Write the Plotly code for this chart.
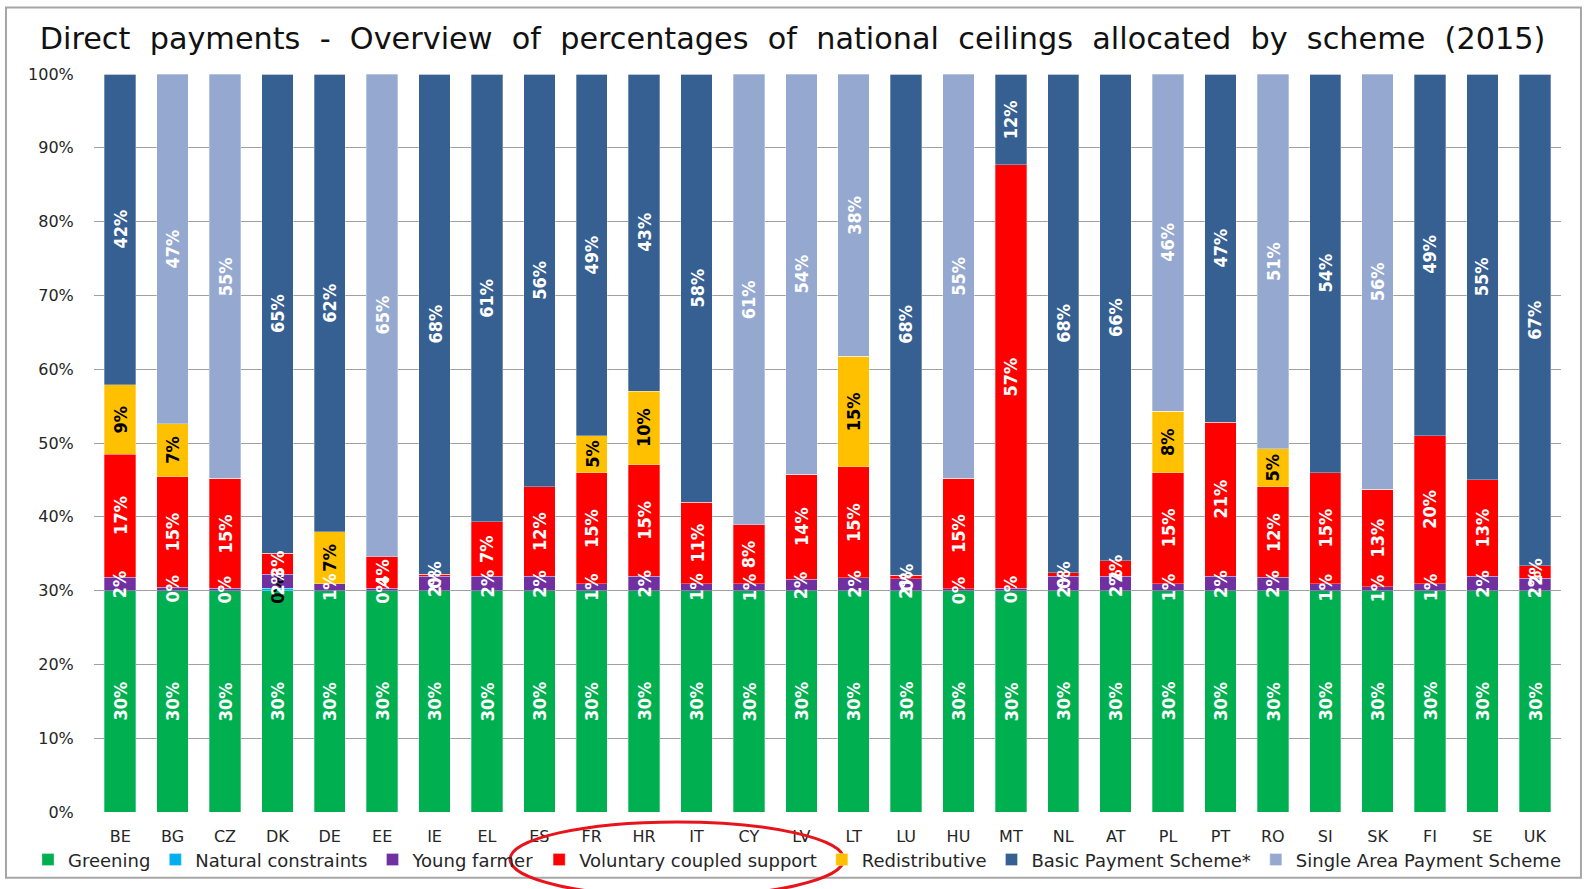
"""Direct payments - stacked share of national ceilings by scheme (2015)."""

import plotly.graph_objects as go

COUNTRIES = ["BE", "BG", "CZ", "DK", "DE", "EE", "IE", "EL", "ES", "FR", "HR", "IT", "CY", "LV",
             "LT", "LU", "HU", "MT", "NL", "AT", "PL", "PT", "RO", "SI", "SK", "FI", "SE", "UK"]

greening = [30, 30, 30, 30, 30, 30, 30, 30, 30, 30, 30, 30, 30, 30,
            30, 30, 30, 30, 30, 30, 30, 30, 30, 30, 30, 30, 30, 30]
natural_constraints = [0, 0, 0, 0.3, 0, 0, 0, 0, 0, 0, 0, 0, 0, 0,
                       0, 0, 0, 0, 0, 0, 0, 0, 0, 0, 0, 0, 0, 0]
young_farmer = [1.8, 0.45, 0.3, 1.95, 0.9, 0.3, 1.94, 1.94, 1.94, 0.9, 1.94, 0.9, 0.9, 1.55,
                1.75, 1.6, 0.25, 0.3, 1.94, 1.94, 0.9, 1.94, 1.8, 0.9, 0.55, 0.9, 1.94, 1.67]
coupled_support = [16.7, 15.0, 14.9, 2.8, 0, 4.3, 0.3, 7.4, 12.1, 15.1, 15.1, 11.1, 8.0, 14.2,
                   15.0, 0.45, 14.95, 57.4, 0.45, 2.1, 15.1, 20.9, 12.25, 15.1, 13.2, 20.1, 13.06, 1.7]
redistributive = [9.4, 7.15, 0, 0, 7.07, 0, 0, 0, 0, 5.0, 10.0, 0, 0, 0,
                  15.0, 0, 0, 0, 0, 0, 8.3, 0, 5.2, 0, 0, 0, 0, 0]
basic_payment = [42.1, 0, 0, 64.95, 62.03, 0, 67.76, 60.66, 55.96, 49.0, 42.96, 58.0, 0, 0,
                 0, 67.95, 0, 12.3, 67.61, 65.96, 0, 47.16, 0, 54.0, 0, 49.0, 55.0, 66.63]
single_area = [0, 47.4, 54.8, 0, 0, 65.4, 0, 0, 0, 0, 0, 0, 61.1, 54.25,
               38.25, 0, 54.8, 0, 0, 0, 45.7, 0, 50.75, 0, 56.25, 0, 0, 0]

Y_TICKS = [0, 10, 20, 30, 40, 50, 60, 70, 80, 90, 100]

TITLE = "Direct payments - Overview of percentages of national ceilings allocated by scheme (2015)"

SERIES = [
    ("Greening", greening, "#00B050", "white"),
    ("Natural constraints", natural_constraints, "#00B0F0", "black"),
    ("Young farmer", young_farmer, "#7030A0", "white"),
    ("Voluntary coupled support", coupled_support, "#FF0000", "white"),
    ("Redistributive", redistributive, "#FFC000", "black"),
    ("Basic Payment Scheme*", basic_payment, "#376092", "white"),
    ("Single Area Payment Scheme", single_area, "#95A9D0", "white"),
]

NARROW = "Liberation Sans Narrow, DejaVu Sans Condensed, Arial Narrow, sans-serif"
WIDE = "DejaVu Sans, Verdana, sans-serif"

fig = go.Figure()

base = [0.0] * len(COUNTRIES)
labels = []
for name, values, color, text_color in SERIES:
    fig.add_trace(go.Bar(
        x=COUNTRIES,
        y=values,
        name=name,
        marker=dict(color=color, line=dict(color="rgba(255,255,255,0.5)", width=0.6)),
    ))
    # segment labels go on top of every bar, like the Excel data labels
    for i, v in enumerate(values):
        if v > 0:
            labels.append(dict(
                x=COUNTRIES[i], y=base[i] + v / 2, text=f"{v:.0f}%",
                textangle=-90, showarrow=False,
                font=dict(family=NARROW, size=18, color=text_color, weight="bold"),
            ))
        base[i] += v

for a in labels:
    fig.add_annotation(**a)

# outer frame and the red hand-drawn ellipse around the legend entry
fig.add_shape(type="rect", xref="paper", yref="paper", x0=-0.06, x1=1.0136, y0=-0.089, y1=1.09,
              line=dict(color="#A6A6A6", width=2), layer="below")
fig.add_shape(type="circle", xref="paper", yref="paper", x0=0.2836, x1=0.5112, y0=-0.1147, y1=-0.0135,
              line=dict(color="#E8141B", width=3))

fig.update_layout(
    barmode="stack",
    bargap=0.4,
    width=1585,
    height=889,
    paper_bgcolor="white",
    plot_bgcolor="white",
    title=dict(
        text=TITLE.replace(" ", "\u00a0 "),
        x=0.5, xanchor="center", y=0.9573, yanchor="middle",
        font=dict(family=WIDE, size=30.3, color="#111111"),
    ),
    xaxis=dict(
        tickfont=dict(family=WIDE, size=16, color="#262626"),
        ticks="outside", ticklen=10, tickcolor="rgba(0,0,0,0)",
        showgrid=False, showline=False,
    ),
    yaxis=dict(
        range=[0, 100],
        tickvals=Y_TICKS,
        ticktext=[f"{t}%" for t in Y_TICKS],
        tickfont=dict(family=WIDE, size=16, color="#262626"),
        ticks="outside", ticklen=16, tickcolor="rgba(0,0,0,0)",
        showgrid=True, gridcolor="#A0A0A0", gridwidth=1,
        zeroline=False, showline=False,
    ),
    showlegend=True,
    legend=dict(
        orientation="h", traceorder="normal",
        x=-0.045, xanchor="left", y=-0.0634, yanchor="middle",
        font=dict(family=WIDE, size=18, color="#262626"),
        bgcolor="rgba(0,0,0,0)",
        itemwidth=30,
    ),
    margin=dict(l=94, r=24, t=74, b=76),
)

fig.write_html(
    "out.html",
    config={"displayModeBar": False},
    post_script="document.body.style.margin='0px';",
)
